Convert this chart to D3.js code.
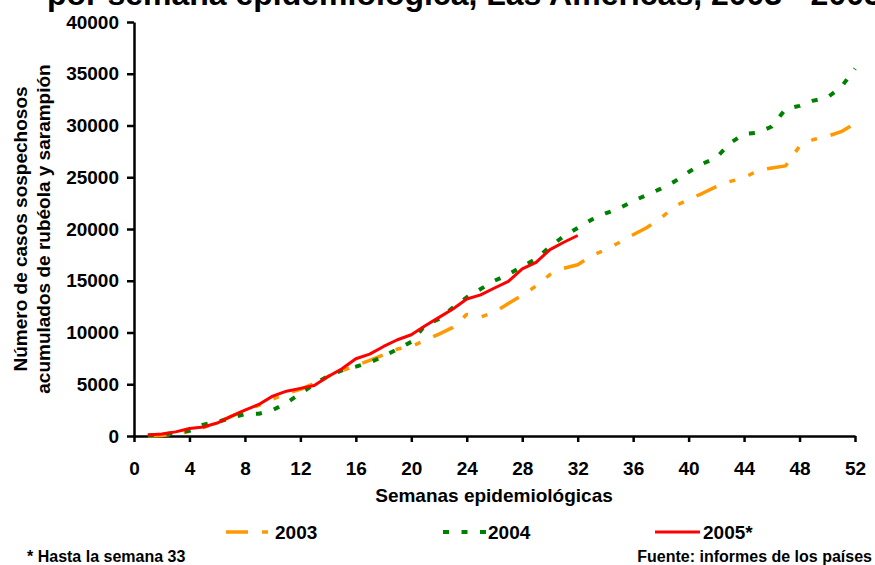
<!DOCTYPE html>
<html><head><meta charset="utf-8">
<script src="https://cdn.jsdelivr.net/npm/d3@7"></script>
<style>
body{margin:0;background:#fff}
svg{display:block}
text{font-family:"Liberation Sans",Arial,sans-serif;font-weight:bold;fill:#000}
</style>
</head><body>
<svg id="chart" width="875" height="565"></svg>
<script>
// ---- data (cumulative suspected cases by epidemiological week, starting at week 1) ----
const cases2003 = [0,50,200,450,800,1300,1900,2450,2950,3550,4100,4500,5100,5750,6300,6800,7300,7850,8400,8650,
  9250,9850,10500,11750,11500,11950,12800,13600,14500,15600,16200,16550,17400,18000,18700,19450,20150,21050,22200,22850,
  23450,24100,24600,24950,25650,25900,26100,28000,28650,28950,29400,30200,31400];
const cases2004 = [50,150,300,500,1100,1350,1750,2100,2150,2500,3200,4100,5000,5800,6350,6700,7100,7700,8400,9100,
  10700,11300,12400,13400,14200,15000,15600,16400,17100,18300,19300,20100,20900,21500,22000,22700,23300,23900,24600,25500,
  26300,26900,28300,29200,29300,29900,31600,31900,32400,32700,33700,35500];
const cases2005 = [100,200,400,730,870,1250,1900,2500,3050,3850,4330,4600,4870,5750,6490,7460,7910,8650,9300,9780,
  10650,11460,12270,13240,13630,14300,14940,16150,16780,18010,18720,19370];
const xTicks = [0,4,8,12,16,20,24,28,32,36,40,44,48,52];
const yTicks = [0,5000,10000,15000,20000,25000,30000,35000,40000];
const seriesNames = ["2003","2004","2005*"];

const svg = d3.select("#chart");
const x = d3.scaleLinear().domain([0,52]).range([134,855]);
const y = d3.scaleLinear().domain([0,40000]).range([436,22]);

// title (top clipped in the original)
svg.append("text").attr("x",47).attr("y",5).style("font-size","32px")
  .text("por semana epidemiológica, Las Américas, 2003 - 2005");

// axes
const yAxis = svg.append("g").attr("transform","translate(134,0)")
  .call(d3.axisLeft(y).tickValues(yTicks).tickSize(7).tickSizeOuter(0).tickPadding(8).tickFormat(d3.format("d")));
const xAxis = svg.append("g").attr("transform","translate(0,436)")
  .call(d3.axisBottom(x).tickValues(xTicks).tickSize(6).tickSizeOuter(0).tickPadding(20).tickFormat(d3.format("d")));
[yAxis,xAxis].forEach(g=>{
  g.select(".domain").attr("stroke","#000").attr("stroke-width",2.5);
  g.selectAll(".tick line").attr("stroke","#000").attr("stroke-width",2.5);
  g.selectAll(".tick text").style("font-size","19px").style("font-family","'Liberation Sans',Arial,sans-serif").style("font-weight","bold").attr("fill","#000");
});

// clip
svg.append("clipPath").attr("id","plotclip").append("rect")
  .attr("x",x(0)).attr("y",0).attr("width",x(52)-x(0)+5).attr("height",y(0)+2);

const line = d3.line().x((d,i)=>x(i+1)).y(d=>y(d));
const styles = [
  {data:cases2003,color:"#FF9900",width:3.5,dash:"22,14,6,14,6,14"},
  {data:cases2004,color:"#008000",width:4,dash:"6,12.5"},
  {data:cases2005,color:"#FF0000",width:3,dash:null}
];
const plot = svg.append("g").attr("clip-path","url(#plotclip)");
styles.forEach(s=>{
  plot.append("path").datum(s.data).attr("d",line).attr("fill","none")
    .attr("stroke",s.color).attr("stroke-width",s.width)
    .attr("stroke-dasharray",s.dash).attr("stroke-linejoin","round");
});

// axis titles
svg.append("text").attr("x",494).attr("y",502).attr("text-anchor","middle").style("font-size","19px")
  .text("Semanas epidemiológicas");
const yt = svg.append("text").attr("transform","translate(27,229) rotate(-90)").attr("text-anchor","middle").style("font-size","19px");
yt.append("tspan").attr("x",0).attr("y",0).text("Número de casos sospechosos");
yt.append("tspan").attr("x",0).attr("y",23).text("acumulados de rubéola y sarampión");

// legend
const legendPos = [{x1:226,x2:270,tx:275},{x1:443,x2:486,tx:488},{x1:655,x2:700,tx:703}];
const legendDash = ["22,14,6,14","6,12.5",null];
seriesNames.forEach((n,i)=>{
  const p = legendPos[i], s = styles[i];
  svg.append("line").attr("x1",p.x1).attr("x2",p.x2).attr("y1",532).attr("y2",532)
    .attr("stroke",s.color).attr("stroke-width",s.width).attr("stroke-dasharray",legendDash[i]);
  svg.append("text").attr("x",p.tx).attr("y",539).style("font-size","19px").text(n);
});

// footnotes
svg.append("text").attr("x",27).attr("y",562).style("font-size","16px").text("* Hasta la semana 33");
svg.append("text").attr("x",872).attr("y",562).attr("text-anchor","end").style("font-size","16px").text("Fuente: informes de los países");
</script>
</body></html>
